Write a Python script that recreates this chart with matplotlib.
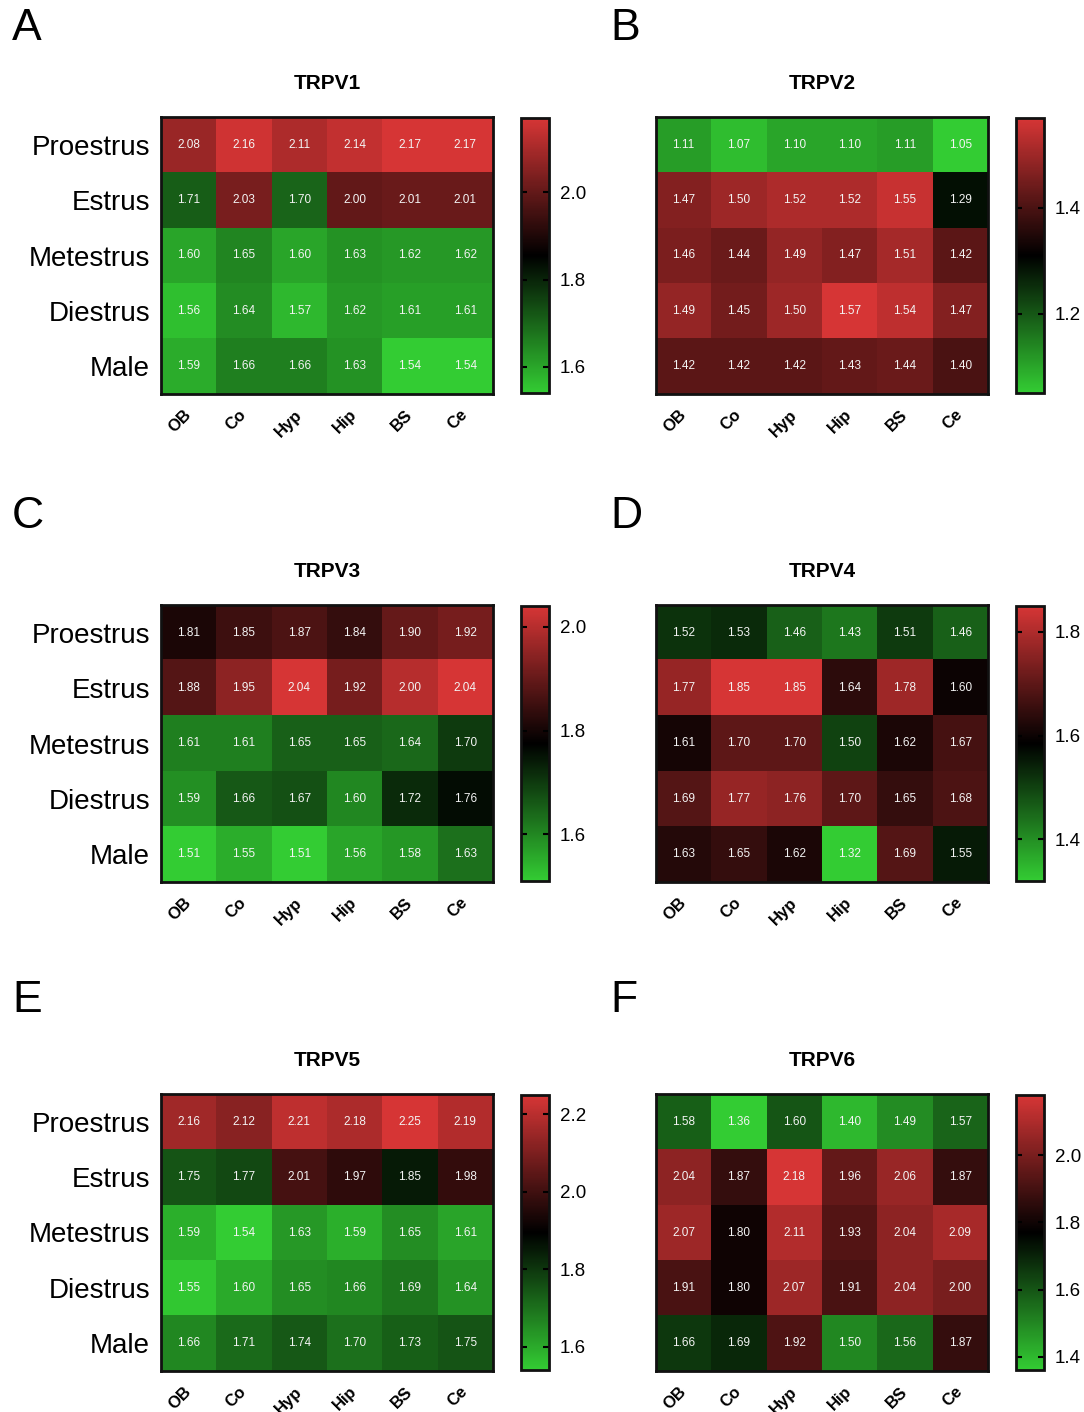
import numpy as np
import matplotlib
matplotlib.use("Agg")
import matplotlib.pyplot as plt
from matplotlib.colors import LinearSegmentedColormap
from matplotlib.ticker import MultipleLocator, FormatStrFormatter

plt.rcParams['font.family'] = ['Liberation Sans', 'DejaVu Sans']

stages = ["Proestrus", "Estrus", "Metestrus", "Diestrus", "Male"]
regions = ["OB", "Co", "Hyp", "Hip", "BS", "Ce"]

trpv1 = [[2.08, 2.16, 2.11, 2.14, 2.17, 2.17],
         [1.71, 2.03, 1.70, 2.00, 2.01, 2.01],
         [1.60, 1.65, 1.60, 1.63, 1.62, 1.62],
         [1.56, 1.64, 1.57, 1.62, 1.61, 1.61],
         [1.59, 1.66, 1.66, 1.63, 1.54, 1.54]]
trpv2 = [[1.11, 1.07, 1.10, 1.10, 1.11, 1.05],
         [1.47, 1.50, 1.52, 1.52, 1.55, 1.29],
         [1.46, 1.44, 1.49, 1.47, 1.51, 1.42],
         [1.49, 1.45, 1.50, 1.57, 1.54, 1.47],
         [1.42, 1.42, 1.42, 1.43, 1.44, 1.40]]
trpv3 = [[1.81, 1.85, 1.87, 1.84, 1.90, 1.92],
         [1.88, 1.95, 2.04, 1.92, 2.00, 2.04],
         [1.61, 1.61, 1.65, 1.65, 1.64, 1.70],
         [1.59, 1.66, 1.67, 1.60, 1.72, 1.76],
         [1.51, 1.55, 1.51, 1.56, 1.58, 1.63]]
trpv4 = [[1.52, 1.53, 1.46, 1.43, 1.51, 1.46],
         [1.77, 1.85, 1.85, 1.64, 1.78, 1.60],
         [1.61, 1.70, 1.70, 1.50, 1.62, 1.67],
         [1.69, 1.77, 1.76, 1.70, 1.65, 1.68],
         [1.63, 1.65, 1.62, 1.32, 1.69, 1.55]]
trpv5 = [[2.16, 2.12, 2.21, 2.18, 2.25, 2.19],
         [1.75, 1.77, 2.01, 1.97, 1.85, 1.98],
         [1.59, 1.54, 1.63, 1.59, 1.65, 1.61],
         [1.55, 1.60, 1.65, 1.66, 1.69, 1.64],
         [1.66, 1.71, 1.74, 1.70, 1.73, 1.75]]
trpv6 = [[1.58, 1.36, 1.60, 1.40, 1.49, 1.57],
         [2.04, 1.87, 2.18, 1.96, 2.06, 1.87],
         [2.07, 1.80, 2.11, 1.93, 2.04, 2.09],
         [1.91, 1.80, 2.07, 1.91, 2.04, 2.00],
         [1.66, 1.69, 1.92, 1.50, 1.56, 1.87]]

titles = ["TRPV1", "TRPV2", "TRPV3", "TRPV4", "TRPV5", "TRPV6"]
letters = ["A", "B", "C", "D", "E", "F"]
datasets = [trpv1, trpv2, trpv3, trpv4, trpv5, trpv6]

cmap = LinearSegmentedColormap.from_list(
    "green_black_red", [(0.20, 0.80, 0.20), (0.0, 0.0, 0.0), (0.84, 0.21, 0.21)])

W, H = 1084, 1412
fig = plt.figure(figsize=(W / 100, H / 100), dpi=100)


def frac(x0, y0, w, h):
    return [x0 / W, 1 - (y0 + h) / H, w / W, h / H]


col_x = [161, 656]
row_y = [117, 605, 1094]
letter_x = [12, 610]
letter_y = [29, 517, 1000]
hm_w, hm_h = 332, 277
cb_dx, cb_w = 360, 28

for i, (data, title, letter) in enumerate(zip(datasets, titles, letters)):
    arr = np.array(data)
    cx = col_x[i % 2]
    ry = row_y[i // 2]
    ax = fig.add_axes(frac(cx, ry, hm_w, hm_h))
    vmin, vmax = arr.min(), arr.max()
    im = ax.imshow(arr, cmap=cmap, vmin=vmin, vmax=vmax, aspect="auto",
                   interpolation="nearest")
    for r in range(arr.shape[0]):
        for c in range(arr.shape[1]):
            ax.text(c, r, f"{arr[r, c]:.2f}", ha="center", va="center",
                    color="#f4f4f4", fontsize=8.5)
    ax.set_yticks(range(len(stages)))
    if i % 2 == 0:
        ax.set_yticklabels(stages, fontsize=20)
    else:
        ax.set_yticklabels([])
    ax.set_xticks(range(len(regions)))
    ax.set_xticklabels(regions, rotation=45, ha="right", va="center",
                       rotation_mode="anchor", fontsize=12, fontweight="bold")
    ax.tick_params(axis="both", length=0)
    ax.tick_params(axis="y", pad=8)
    ax.tick_params(axis="x", pad=13)
    for s in ax.spines.values():
        s.set_linewidth(2)
        s.set_color("#111111")
    ax.set_title(title, fontsize=15, fontweight="bold", pad=20)

    cax = fig.add_axes(frac(cx + cb_dx, ry + 1, cb_w, hm_h - 2))
    cb = fig.colorbar(im, cax=cax)
    cb.outline.set_linewidth(2)
    cb.outline.set_edgecolor("#111111")
    cb.locator = MultipleLocator(0.2)
    cb.update_ticks()
    cax.yaxis.set_major_formatter(FormatStrFormatter("%.1f"))
    cax.tick_params(axis="y", which="both", direction="in", left=True, right=True,
                    length=4, width=1.5, labelsize=13.5, pad=8)
    cax.minorticks_off()

    fig.text(letter_x[i % 2] / W, 1 - letter_y[i // 2] / H, letter,
             fontsize=32, ha="left", va="center")

fig.savefig("out.png", dpi=100)
